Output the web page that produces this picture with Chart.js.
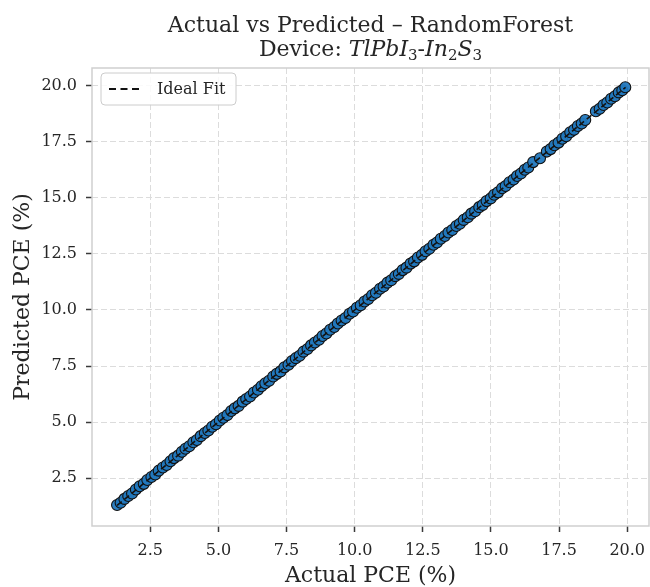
<!DOCTYPE html>
<html>
<head>
<meta charset="utf-8">
<script src="https://cdn.jsdelivr.net/npm/chart.js@4.4.1/dist/chart.umd.min.js"></script>
<style>
  html, body { margin: 0; padding: 0; background: #fff; overflow: hidden; }
  #chart { display: block; }
</style>
</head>
<body>
<canvas id="chart" width="650" height="587"></canvas>
<script>
// ─── Data ───

const actualPCE = [
  1.28, 1.41, 1.55, 1.69, 1.83, 1.97, 2.11, 2.26, 2.39, 2.54,
  2.68, 2.81, 2.96, 3.10, 3.24, 3.37, 3.52, 3.66, 3.79, 3.93,
  4.08, 4.21, 4.35, 4.50, 4.63, 4.77, 4.91, 5.05, 5.18, 5.33,
  5.47, 5.60, 5.74, 5.89, 6.02, 6.16, 6.30, 6.45, 6.58, 6.72,
  6.86, 7.01, 7.14, 7.28, 7.42, 7.57, 7.70, 7.84, 7.98, 8.12,
  8.27, 8.40, 8.54, 8.69, 8.82, 8.96, 9.10, 9.25, 9.38, 9.52,
  9.66, 9.81, 9.94, 10.08, 10.22, 10.36, 10.50, 10.64, 10.78, 10.93,
  11.06, 11.20, 11.34, 11.49, 11.62, 11.76, 11.90, 12.05, 12.18, 12.32,
  12.47, 12.60, 12.74, 12.89, 13.02, 13.16, 13.31, 13.44, 13.58, 13.73,
  13.86, 14.00, 14.15, 14.28, 14.42, 14.57, 14.70, 14.84, 14.99, 15.12,
  15.26, 15.41, 15.54, 15.68, 15.83, 15.96, 16.10, 16.24, 16.37, 16.55,
  16.80, 17.05, 17.19, 17.33, 17.48, 17.62, 17.76, 17.91, 18.05, 18.19,
  18.33, 18.46, 18.85, 18.99, 19.13, 19.27, 19.41, 19.55, 19.69, 19.82,
  19.93,
];

const predictedPCE = [
  1.30, 1.40, 1.57, 1.70, 1.81, 1.99, 2.13, 2.24, 2.41, 2.55,
  2.66, 2.83, 2.97, 3.08, 3.25, 3.39, 3.50, 3.67, 3.81, 3.92,
  4.10, 4.20, 4.37, 4.51, 4.62, 4.79, 4.90, 5.07, 5.19, 5.31,
  5.49, 5.61, 5.72, 5.91, 6.03, 6.14, 6.32, 6.44, 6.60, 6.73,
  6.84, 7.03, 7.15, 7.26, 7.44, 7.56, 7.72, 7.85, 7.96, 8.14,
  8.26, 8.42, 8.55, 8.67, 8.84, 8.95, 9.12, 9.24, 9.40, 9.53,
  9.64, 9.83, 9.93, 10.10, 10.21, 10.38, 10.49, 10.66, 10.77, 10.95,
  11.05, 11.22, 11.33, 11.51, 11.61, 11.78, 11.89, 12.07, 12.17, 12.34,
  12.46, 12.62, 12.73, 12.91, 13.01, 13.18, 13.30, 13.46, 13.57, 13.75,
  13.85, 14.02, 14.14, 14.30, 14.41, 14.59, 14.69, 14.86, 14.98, 15.14,
  15.25, 15.43, 15.53, 15.70, 15.82, 15.98, 16.09, 16.26, 16.36, 16.60,
  16.77, 17.07, 17.18, 17.35, 17.47, 17.64, 17.75, 17.93, 18.04, 18.21,
  18.32, 18.48, 18.87, 18.98, 19.15, 19.26, 19.43, 19.54, 19.71, 19.81,
  19.94,
];

const tickValues = [2.5, 5.0, 7.5, 10.0, 12.5, 15.0, 17.5, 20.0];

const axisMin = 0.36;
const axisMax = 20.8;

const titleLine1 = 'Actual vs Predicted \u2013 RandomForest';
// second line: [text, style] — style: 'n' normal, 'i' math italic, 's' subscript
const titleLine2 = [
  ['Device: ', 'n'],
  ['TlPbI', 'i'], ['3', 's'],
  ['-', 'n'],
  ['In', 'i'], ['2', 's'],
  ['S', 'i'], ['3', 's'],
];

const legendLabel = 'Ideal Fit';

// ─── Style ───

const FONT = "'DejaVu Serif', serif";
const TEXT = '#262626';
const POINT_FILL = 'rgba(34, 120, 190, 0.95)';

// ─── Derived datasets ───

const scatterPoints = actualPCE.map((x, i) => ({ x, y: predictedPCE[i] }));
const lo = Math.min(...actualPCE, ...predictedPCE);
const hi = Math.max(...actualPCE, ...predictedPCE);
const idealLine = [{ x: lo, y: lo }, { x: hi, y: hi }];

// ─── Plugins: title with subscripts, framed plot, legend box ───

const titlePlugin = {
  id: 'mathTitle',
  afterDraw(chart) {
    const { ctx, chartArea } = chart;
    const cx = (chartArea.left + chartArea.right) / 2;
    ctx.save();
    ctx.fillStyle = TEXT;
    ctx.textBaseline = 'alphabetic';
    ctx.textAlign = 'left';

    ctx.font = `22px ${FONT}`;
    const w1 = ctx.measureText(titleLine1).width;
    ctx.fillText(titleLine1, cx - w1 / 2, 32);

    const fontFor = s => s === 'i' ? `italic 22px ${FONT}` : s === 's' ? `15px ${FONT}` : `22px ${FONT}`;
    let total = 0;
    for (const [t, s] of titleLine2) { ctx.font = fontFor(s); total += ctx.measureText(t).width; }
    let x = cx - total / 2;
    for (const [t, s] of titleLine2) {
      ctx.font = fontFor(s);
      ctx.fillText(t, x, s === 's' ? 60 : 56);
      x += ctx.measureText(t).width;
    }
    ctx.restore();
  },
};

const framePlugin = {
  id: 'frame',
  beforeDatasetsDraw(chart) {
    const { ctx, chartArea: a } = chart;
    ctx.save();
    ctx.strokeStyle = '#cfcfcf';
    ctx.lineWidth = 1.5;
    ctx.strokeRect(a.left, a.top, a.right - a.left, a.bottom - a.top);
    ctx.restore();
  },
};

const legendPlugin = {
  id: 'legendBox',
  afterDraw(chart) {
    const { ctx, chartArea: a } = chart;
    const x = a.left + 9, y = a.top + 5, w = 135, h = 32, r = 4;
    ctx.save();
    ctx.beginPath();
    ctx.roundRect(x, y, w, h, r);
    ctx.fillStyle = 'rgba(255,255,255,0.85)';
    ctx.fill();
    ctx.strokeStyle = '#cccccc';
    ctx.lineWidth = 1;
    ctx.stroke();

    ctx.beginPath();
    ctx.setLineDash([7, 4.5]);
    ctx.strokeStyle = '#111';
    ctx.lineWidth = 2;
    ctx.moveTo(x + 8, y + h / 2);
    ctx.lineTo(x + 39, y + h / 2);
    ctx.stroke();

    ctx.setLineDash([]);
    ctx.fillStyle = TEXT;
    ctx.font = `16px ${FONT}`;
    ctx.textBaseline = 'middle';
    ctx.fillText(legendLabel, x + 56, y + h / 2 + 1);
    ctx.restore();
  },
};

// ─── Axis factory ───

function axis(title, fitFn, titlePad) {
  return {
    type: 'linear',
    min: axisMin,
    max: axisMax,
    afterBuildTicks: scale => { scale.ticks = tickValues.map(value => ({ value })); },
    afterFit: s => {
      fitFn(s);
      // keep the plot edges where the reference has them
      s.paddingLeft = 0; s.paddingRight = 0; s.paddingTop = 0; s.paddingBottom = 0;
    },
    grid: {
      color: '#dcdcdc',
      lineWidth: 1,
      drawTicks: true,
      tickLength: 6,
      tickColor: '#3a3a3a',
      tickWidth: 1.5,
      tickBorderDash: [],
    },
    border: { display: false, dash: [6, 3] },
    ticks: {
      color: TEXT,
      font: { family: FONT, size: 16 },
      padding: 9,
      callback: v => Number(v).toFixed(1),
    },
    title: {
      display: true,
      text: title,
      color: TEXT,
      font: { family: FONT, size: 22, lineHeight: 1 },
      padding: titlePad,
    },
  };
}

// ─── Chart ───

new Chart(document.getElementById('chart'), {
  type: 'scatter',
  data: {
    datasets: [
      {
        label: legendLabel,
        type: 'line',
        data: idealLine,
        borderColor: '#111',
        borderWidth: 1.6,
        borderDash: [6, 3.5],
        pointRadius: 0,
        fill: false,
        order: 0,
      },
      {
        label: 'Predictions',
        data: scatterPoints,
        backgroundColor: POINT_FILL,
        borderColor: '#111',
        borderWidth: 1.1,
        pointRadius: 5.5,
        order: 1,
      },
    ],
  },
  options: {
    responsive: false,
    animation: false,
    events: [],
    layout: { autoPadding: false, padding: { top: 68, right: 1, bottom: 0, left: 0 } },
    plugins: {
      legend: { display: false },
      tooltip: { enabled: false },
    },
    scales: {
      x: axis('Actual PCE (%)', s => { s.height = 61; }, { top: 0, bottom: 0 }),
      y: axis('Predicted PCE (%)', s => { s.width = 92; }, { top: 12, bottom: 0 }),
    },
  },
  plugins: [framePlugin, titlePlugin, legendPlugin],
});
</script>
</body>
</html>
